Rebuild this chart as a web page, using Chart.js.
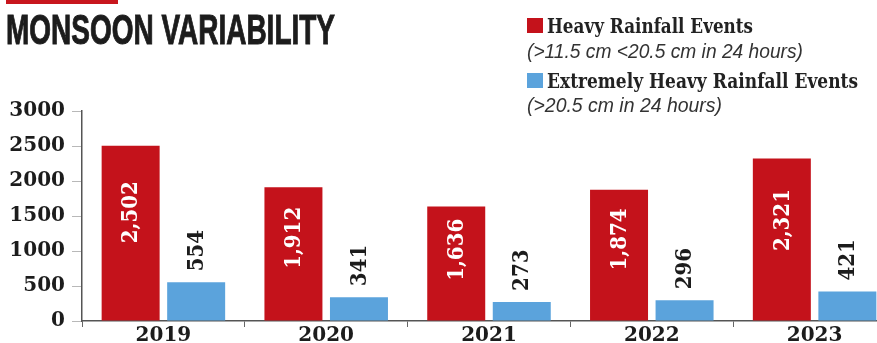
<!DOCTYPE html>
<html>
<head>
<meta charset="utf-8">
<script src="https://cdn.jsdelivr.net/npm/chart.js@4/dist/chart.umd.min.js"></script>
<style>
  html, body { margin:0; padding:0; width:877px; height:343px; overflow:hidden; background:#fff; }
  #wrap { position:absolute; left:0; top:0; width:900px; height:343px; }
  .t { position:absolute; white-space:nowrap; transform-origin:0 0; line-height:1; }
  #tab { position:absolute; left:6px; top:0; width:112px; height:4px; background:#c8161d; }
  #title { left:6px; top:9px; font:bold 42px "Liberation Sans", Arial, sans-serif; color:#1c1c1c; line-height:42px; -webkit-text-stroke:1px #1c1c1c; }
  .lg { font:bold 21px "DejaVu Serif Condensed", "DejaVu Serif", serif; color:#222; line-height:21px; }
  .it { font:italic 20px "Liberation Sans", Arial, sans-serif; color:#333; line-height:20px; }
  .sq { position:absolute; width:16px; height:15px; }
</style>
</head>
<body>
<div id="wrap"><canvas id="c" width="900" height="343"></canvas></div>
<div id="tab"></div>
<div id="title" class="t" data-w="329">MONSOON VARIABILITY</div>
<div class="sq" style="left:527px; top:18px; background:#c4121b;"></div>
<div id="l1" class="t lg" style="left:547px; top:15px;" data-w="206">Heavy Rainfall Events</div>
<div id="l2" class="t it" style="left:527px; top:41px;" data-w="276">(&gt;11.5 cm &lt;20.5 cm in 24 hours)</div>
<div class="sq" style="left:527px; top:73px; background:#5ba3dc;"></div>
<div id="l3" class="t lg" style="left:547px; top:70px;" data-w="311">Extremely Heavy Rainfall Events</div>
<div id="l4" class="t it" style="left:527px; top:95px;" data-w="195">(&gt;20.5 cm in 24 hours)</div>
<script>
const years = ['2019', '2020', '2021', '2022', '2023'];
const heavyEvents = [2502, 1912, 1636, 1874, 2321];
const extremeEvents = [554, 341, 273, 296, 421];
const yTicks = [0, 500, 1000, 1500, 2000, 2500, 3000];

function fitAll() {
  document.querySelectorAll('.t[data-w]').forEach(el => {
    el.style.transform = 'none';
    const w = el.getBoundingClientRect().width;
    const target = parseFloat(el.dataset.w);
    if (w > 0) el.style.transform = 'scaleX(' + (target / w) + ')';
  });
}
fitAll();
if (document.fonts && document.fonts.ready) document.fonts.ready.then(fitAll);

const fmt = v => v.toLocaleString('en-US');

const valueLabels = {
  id: 'valueLabels',
  afterDatasetsDraw(chart) {
    const ctx = chart.ctx;
    chart.data.datasets.forEach((ds, di) => {
      const meta = chart.getDatasetMeta(di);
      meta.data.forEach((bar, i) => {
        const v = ds.data[i];
        ctx.save();
        ctx.font = 'bold 22px "DejaVu Serif Condensed", "DejaVu Serif", serif';
        ctx.textBaseline = 'middle';
        if (di === 0) {
          const y = bar.y + (bar.base - bar.y) * 0.38;
          ctx.translate(bar.x, y);
          ctx.rotate(-Math.PI / 2);
          ctx.fillStyle = '#ffffff';
          ctx.textAlign = 'center';
          ctx.fillText(fmt(v), 0, 1);
        } else {
          ctx.translate(bar.x, bar.y - 11);
          ctx.rotate(-Math.PI / 2);
          ctx.fillStyle = '#1c1c1c';
          ctx.textAlign = 'left';
          ctx.fillText(fmt(v), 0, 1);
        }
        ctx.restore();
      });
    });
  }
};

new Chart(document.getElementById('c'), {
  type: 'bar',
  data: {
    labels: years,
    datasets: [
      { label: 'Heavy Rainfall Events', data: heavyEvents, backgroundColor: '#c4121b',
        categoryPercentage: 0.805, barPercentage: 0.885 },
      { label: 'Extremely Heavy Rainfall Events', data: extremeEvents, backgroundColor: '#5ba3dc',
        categoryPercentage: 0.805, barPercentage: 0.885 }
    ]
  },
  options: {
    responsive: false,
    animation: false,
    layout: { padding: { top: 111, right: 4, left: 0, bottom: 0 } },
    plugins: { legend: { display: false }, tooltip: { enabled: false } },
    scales: {
      y: {
        min: 0, max: 3000,
        afterBuildTicks: s => { s.ticks = yTicks.map(v => ({ value: v })); },
        afterFit: s => { s.width = 82; },
        ticks: { font: { family: '"DejaVu Serif", serif', size: 20, weight: 'bold' }, color: '#1c1c1c', padding: 7,
                 callback: v => String(v) },
        grid: { drawOnChartArea: false, tickLength: 10, color: '#b8b8b8' },
        border: { display: true, color: '#555', width: 1.5 }
      },
      x: {
        afterFit: s => { s.height = 22; },
        ticks: { font: { family: '"DejaVu Serif", serif', size: 20, weight: 'bold' }, color: '#1c1c1c', padding: -3 },
        grid: { offset: true, drawOnChartArea: false, tickLength: 6, color: '#666' },
        border: { display: true, color: '#555', width: 1.5 }
      }
    }
  },
  plugins: [valueLabels]
});
</script>
</body>
</html>
